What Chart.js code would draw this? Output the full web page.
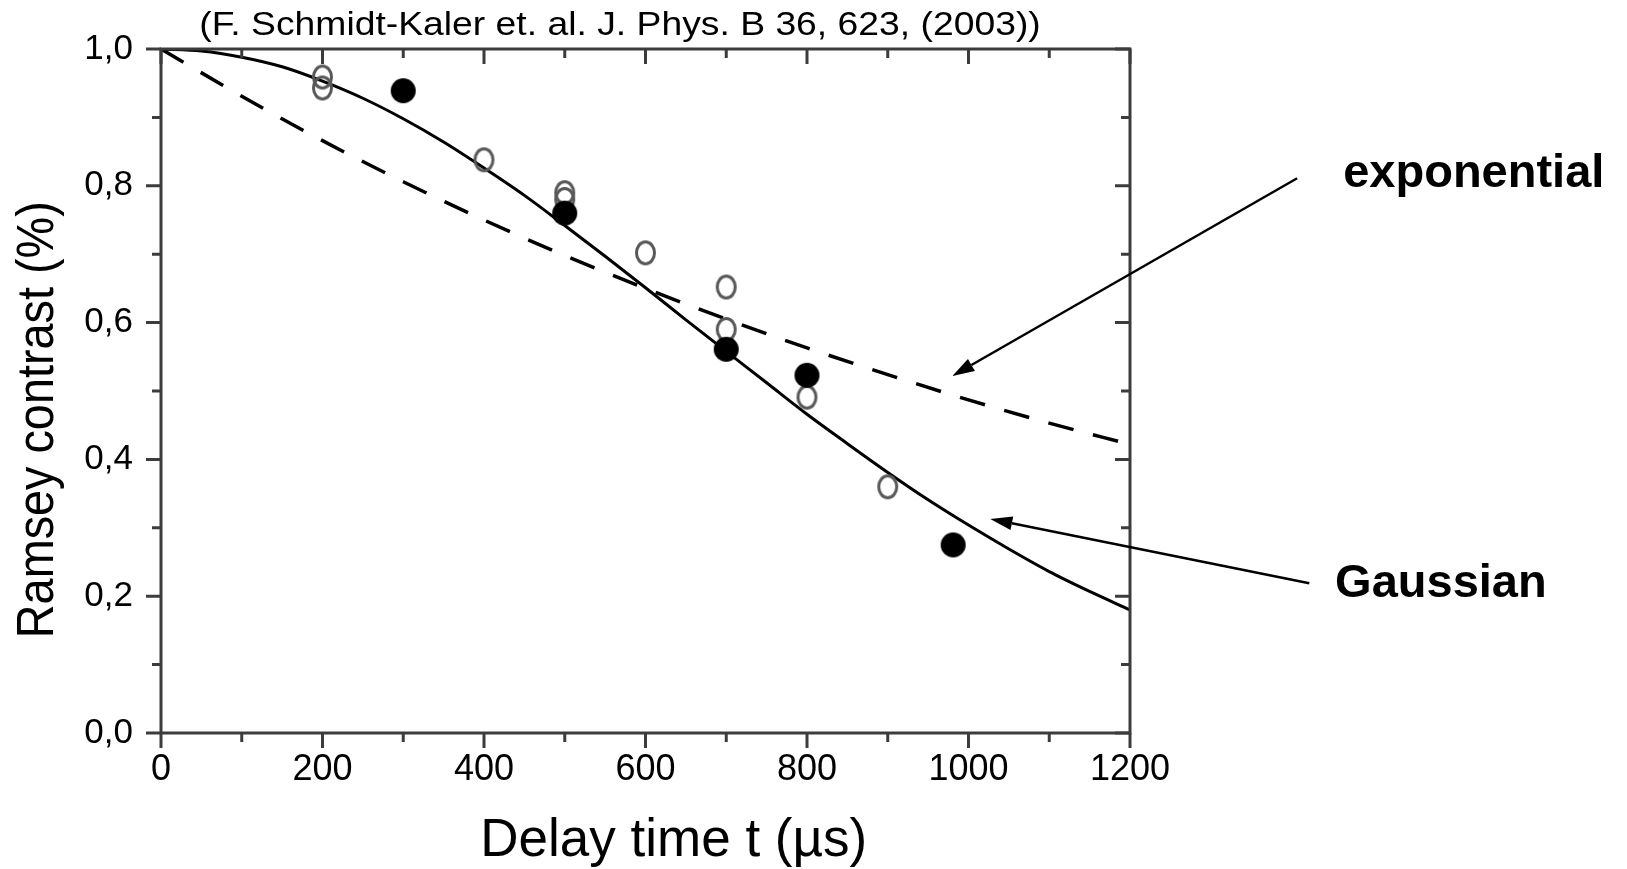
<!DOCTYPE html>
<html>
<head>
<meta charset="utf-8">
<script src="https://cdn.jsdelivr.net/npm/chart.js@4.4.0/dist/chart.umd.min.js"></script>
<style>
  html, body { margin: 0; padding: 0; background: #ffffff; }
  #wrap { width: 1627px; height: 869px; position: relative; }
</style>
</head>
<body>
<div id="wrap"><canvas id="c" width="1627" height="869"></canvas></div>
<script>
// ---- data ----
const gaussT = [0, 50, 100, 150, 200, 250, 300, 350, 400, 450, 500, 550, 600, 650, 700, 750, 800, 850, 900, 950, 1000, 1050, 1100, 1150, 1200];
const gaussV = [1.000, 0.997, 0.988, 0.974, 0.953, 0.928, 0.898, 0.864, 0.826, 0.786, 0.742, 0.697, 0.651, 0.604, 0.558, 0.512, 0.466, 0.423, 0.381, 0.341, 0.304, 0.269, 0.236, 0.207, 0.180];
const expT = [0, 100, 200, 300, 400, 500, 600, 700, 800, 900, 1000, 1100, 1200];
const expV = [1.000, 0.931, 0.866, 0.806, 0.750, 0.698, 0.650, 0.605, 0.563, 0.524, 0.487, 0.453, 0.422];
const openT = [200, 200, 400, 500, 500, 600, 700, 700, 800, 900];
const openV = [0.959, 0.943, 0.838, 0.790, 0.780, 0.702, 0.652, 0.590, 0.491, 0.360];
const filledT = [300, 500, 700, 800, 981];
const filledV = [0.939, 0.760, 0.561, 0.523, 0.275];
const xTickLabels = ['0', '200', '400', '600', '800', '1000', '1200'];
const yTickLabels = ['0,0', '0,2', '0,4', '0,6', '0,8', '1,0'];
const titleText = '(F. Schmidt-Kaler et. al. J. Phys. B 36, 623, (2003))';
const xTitle = 'Delay time t (\u00b5s)';
const yTitle = 'Ramsey contrast (%)';

// ---- annotation placement (data coordinates) ----
const annotations = [
  { text: 'exponential', at: [1464, 0.798], tail: [1407, 0.811], head: [980, 0.522] },
  { text: 'Gaussian', at: [1454, 0.199], tail: [1422, 0.219], head: [1027, 0.313] }
];

const toXY = (ts, vs) => ts.map((t, i) => ({ x: t, y: vs[i] }));

function makeEllipse(rx, ry, fill, stroke, lw) {
  const c = document.createElement('canvas');
  c.width = Math.ceil(2 * rx + lw + 2);
  c.height = Math.ceil(2 * ry + lw + 2);
  const g = c.getContext('2d');
  g.beginPath();
  g.ellipse(c.width / 2, c.height / 2, rx, ry, 0, 0, Math.PI * 2);
  if (fill) { g.fillStyle = fill; g.fill(); }
  if (stroke) { g.strokeStyle = stroke; g.lineWidth = lw; g.stroke(); }
  return c;
}
const openMarker = makeEllipse(9, 11, null, '#585858', 3);
const filledMarker = makeEllipse(12.5, 12.5, '#000000', null, 0);

const AXIS_FONT = '"Liberation Sans", Arial, sans-serif';

const framePlugin = {
  id: 'frame',
  afterDraw(chart) {
    const ctx = chart.ctx;
    const a = chart.chartArea;
    const xs = chart.scales.x, ys = chart.scales.y;
    ctx.save();
    ctx.strokeStyle = '#3c3c3c';
    ctx.lineWidth = 3;
    ctx.strokeRect(a.left, a.top, a.right - a.left, a.bottom - a.top);
    xs.ticks.forEach((tk, i) => {
      const px = xs.getPixelForValue(tk.value);
      const len = (i % 2 === 0) ? 15 : 9;
      ctx.beginPath();
      ctx.moveTo(px, a.bottom); ctx.lineTo(px, a.bottom + len);
      ctx.moveTo(px, a.top); ctx.lineTo(px, a.top + len);
      ctx.stroke();
    });
    ys.ticks.forEach((tk, i) => {
      const py = ys.getPixelForValue(tk.value);
      const len = (i % 2 === 0) ? 15 : 9;
      ctx.beginPath();
      ctx.moveTo(a.left - len, py); ctx.lineTo(a.left, py);
      ctx.moveTo(a.right - len, py); ctx.lineTo(a.right, py);
      ctx.stroke();
    });
    ctx.fillStyle = '#000';
    // top citation (slightly wide lettering, as in the original)
    ctx.save();
    ctx.translate(620, 35);
    ctx.scale(1.13, 1);
    ctx.font = '33px "Liberation Sans", Arial, sans-serif';
    ctx.textAlign = 'center';
    ctx.textBaseline = 'alphabetic';
    ctx.fillText(titleText, 0, 0);
    ctx.restore();
    // x axis title
    ctx.font = '53px ' + AXIS_FONT;
    ctx.textAlign = 'center';
    ctx.textBaseline = 'alphabetic';
    ctx.fillText(xTitle, xs.getPixelForValue(635), 856);
    // y axis title (rotated)
    ctx.save();
    ctx.translate(53, ys.getPixelForValue(0.458));
    ctx.rotate(-Math.PI / 2);
    ctx.scale(0.9, 1);
    ctx.font = '52px ' + AXIS_FONT;
    ctx.textAlign = 'center';
    ctx.textBaseline = 'alphabetic';
    ctx.fillText(yTitle, 0, 0);
    ctx.restore();
    // annotations
    ctx.font = 'bold 47px "Liberation Sans", Arial, sans-serif';
    ctx.textAlign = 'left';
    ctx.textBaseline = 'alphabetic';
    ctx.strokeStyle = '#000';
    annotations.forEach(an => {
      ctx.fillText(an.text, xs.getPixelForValue(an.at[0]), ys.getPixelForValue(an.at[1]));
      const x1 = xs.getPixelForValue(an.tail[0]), y1 = ys.getPixelForValue(an.tail[1]);
      const x2 = xs.getPixelForValue(an.head[0]), y2 = ys.getPixelForValue(an.head[1]);
      const ang = Math.atan2(y2 - y1, x2 - x1);
      const hl = 22, hw = 7;
      const bx = x2 - hl * Math.cos(ang), by = y2 - hl * Math.sin(ang);
      ctx.lineWidth = 2.5;
      ctx.beginPath();
      ctx.moveTo(x1, y1); ctx.lineTo(bx, by);
      ctx.stroke();
      ctx.beginPath();
      ctx.moveTo(x2, y2);
      ctx.lineTo(bx + hw * Math.sin(ang), by - hw * Math.cos(ang));
      ctx.lineTo(bx - hw * Math.sin(ang), by + hw * Math.cos(ang));
      ctx.closePath();
      ctx.fill();
    });
    ctx.restore();
  }
};

new Chart(document.getElementById('c'), {
  type: 'scatter',
  data: {
    datasets: [
      { label: 'filled', data: toXY(filledT, filledV), pointStyle: filledMarker, pointRadius: 12, showLine: false, order: 0 },
      { label: 'open', data: toXY(openT, openV), pointStyle: openMarker, pointRadius: 12, showLine: false, order: 1 },
      { label: 'Gaussian', data: toXY(gaussT, gaussV), showLine: true, borderColor: '#000', borderWidth: 3, pointRadius: 0, cubicInterpolationMode: 'monotone', fill: false, order: 2 },
      { label: 'exponential', data: toXY(expT, expV), showLine: true, borderColor: '#000', borderWidth: 3.5, borderDash: [26, 20], pointRadius: 0, cubicInterpolationMode: 'monotone', fill: false, order: 3 }
    ]
  },
  options: {
    responsive: false,
    animation: false,
    devicePixelRatio: 1,
    layout: { padding: { top: 49, right: 497, left: 0, bottom: 0 } },
    plugins: { legend: { display: false }, tooltip: { enabled: false }, title: { display: false } },
    scales: {
      x: {
        type: 'linear', min: 0, max: 1200,
        grid: { display: false, drawTicks: false },
        border: { display: false },
        ticks: {
          stepSize: 100, autoSkip: false, maxRotation: 0, padding: 15, color: '#000',
          font: { family: AXIS_FONT, size: 36 },
          callback: (v) => (v % 200 === 0 ? xTickLabels[v / 200] : '')
        },
        afterFit: (s) => { s.height = 136; }
      },
      y: {
        type: 'linear', min: 0, max: 1,
        grid: { display: false, drawTicks: false },
        border: { display: false },
        ticks: {
          stepSize: 0.1, autoSkip: false, padding: 28, color: '#000',
          font: { family: AXIS_FONT, size: 35 },
          callback: (v, i) => (i % 2 === 0 ? yTickLabels[i / 2] : '')
        },
        afterFit: (s) => { s.width = 161; }
      }
    }
  },
  plugins: [framePlugin]
});
</script>
</body>
</html>
